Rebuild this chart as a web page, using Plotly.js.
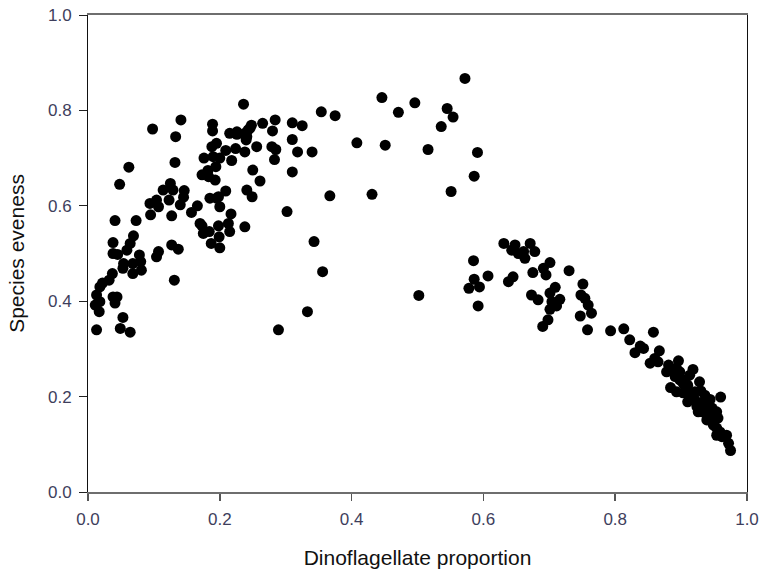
<!DOCTYPE html>
<html>
<head>
<meta charset="utf-8">
<script src="https://cdn.plot.ly/plotly-3.0.1.min.js"></script>
<style>html,body{margin:0;padding:0;background:#fff;}#chart{width:765px;height:579px;}</style>
</head>
<body>
<div id="chart"></div>
<script>
// Dinoflagellate proportion (x) and species eveness (y)
const dinoProportion = [
  0.236,0.098,0.141,0.133,0.132,0.062,0.048,0.189,0.189,0.215,0.226,0.238,0.241,0.248,0.243,0.265,0.284,0.310,0.325,0.280,
  0.310,0.318,0.340,0.279,0.285,0.283,0.256,0.238,0.224,0.209,0.218,0.195,0.188,0.200,0.190,0.176,0.194,0.182,0.173,0.183,
  0.193,0.250,0.261,0.241,0.249,0.209,0.310,0.302,0.238,0.217,0.213,0.215,0.200,0.195,0.185,0.198,0.199,0.200,0.187,0.173,
  0.175,0.184,0.166,0.157,0.146,0.145,0.140,0.125,0.114,0.129,0.123,0.127,0.104,0.094,0.107,0.095,0.073,0.041,0.069,0.064,
  0.059,0.038,0.038,0.045,0.078,0.080,0.081,0.068,0.068,0.054,0.053,0.107,0.104,0.127,0.137,0.037,0.032,0.022,0.018,0.131,
  0.013,0.018,0.011,0.017,0.038,0.041,0.044,0.053,0.013,0.049,0.064,0.289,
  0.446,0.471,0.354,0.375,0.408,0.451,0.367,0.431,0.343,0.356,0.333,0.198,0.226,0.246,0.240,0.170,
  0.572,0.496,0.545,0.554,0.536,0.516,0.591,0.586,0.551,0.502,
  0.631,0.648,0.643,0.653,0.663,0.671,0.678,0.661,0.585,0.586,0.578,0.594,0.607,0.592,0.638,0.645,0.675,0.691,0.701,0.695,
  0.730,0.673,0.683,0.701,0.709,0.716,0.704,0.701,0.711,0.698,0.690,0.751,0.748,0.754,0.759,0.764,0.747,0.758,0.793,0.813,
  0.858,0.822,0.830,0.838,0.843,0.867,0.853,0.860,0.865,0.881,0.883,0.896,0.893,0.898,0.891,0.918,0.884,0.893,0.903,0.908,
  0.898,0.906,0.914,0.921,0.924,0.930,0.934,0.939,0.944,0.926,0.960,0.954,0.956,0.946,0.939,0.949,0.954,0.959,0.954,0.962,
  0.969,0.972,0.975,0.910,0.921,0.936,0.913,0.928,0.941,0.947,0.932,0.910,0.878,0.903
];
const speciesEveness = [
  0.813,0.761,0.780,0.745,0.691,0.681,0.645,0.771,0.757,0.752,0.750,0.752,0.745,0.769,0.759,0.773,0.780,0.774,0.768,0.757,
  0.739,0.713,0.713,0.724,0.718,0.697,0.724,0.713,0.720,0.716,0.695,0.731,0.724,0.700,0.703,0.700,0.682,0.674,0.665,0.661,
  0.654,0.675,0.652,0.633,0.619,0.631,0.671,0.588,0.556,0.583,0.563,0.546,0.598,0.616,0.616,0.558,0.535,0.512,0.521,0.558,
  0.542,0.546,0.600,0.586,0.632,0.618,0.602,0.647,0.633,0.633,0.612,0.579,0.612,0.605,0.598,0.581,0.569,0.569,0.537,0.521,
  0.507,0.523,0.500,0.498,0.497,0.483,0.465,0.458,0.479,0.479,0.469,0.504,0.493,0.518,0.509,0.458,0.444,0.438,0.430,0.444,
  0.413,0.399,0.392,0.378,0.409,0.396,0.409,0.366,0.340,0.343,0.335,0.340,
  0.827,0.796,0.797,0.789,0.732,0.727,0.621,0.624,0.525,0.462,0.378,0.619,0.755,0.763,0.738,0.563,
  0.867,0.816,0.804,0.786,0.766,0.718,0.712,0.662,0.630,0.412,
  0.521,0.518,0.507,0.500,0.490,0.521,0.504,0.504,0.485,0.446,0.427,0.430,0.453,0.390,0.441,0.451,0.460,0.469,0.481,0.455,
  0.464,0.413,0.403,0.417,0.429,0.404,0.399,0.383,0.390,0.361,0.347,0.436,0.413,0.406,0.392,0.375,0.369,0.340,0.338,0.342,
  0.335,0.319,0.292,0.306,0.301,0.296,0.270,0.280,0.273,0.266,0.256,0.275,0.259,0.252,0.242,0.257,0.219,0.210,0.228,0.214,
  0.235,0.235,0.200,0.193,0.179,0.212,0.189,0.172,0.194,0.168,0.199,0.168,0.155,0.158,0.151,0.140,0.134,0.126,0.119,0.116,
  0.119,0.102,0.087,0.224,0.210,0.203,0.245,0.231,0.182,0.176,0.168,0.189,0.252,0.208
];
const xTickValues = [0, 0.2, 0.4, 0.6, 0.8, 1.0];
const xTickLabels = ['0.0', '0.2', '0.4', '0.6', '0.8', '1.0'];
const yTickValues = [0, 0.2, 0.4, 0.6, 0.8, 1.0];
const yTickLabels = ['0.0', '0.2', '0.4', '0.6', '0.8', '1.0'];

const trace = {
  type: 'scatter',
  mode: 'markers',
  x: dinoProportion,
  y: speciesEveness,
  marker: {color: '#000000', size: 11, line: {width: 0}},
  cliponaxis: false,
  hoverinfo: 'x+y'
};

const tickFont = {family: 'Liberation Sans, Arial, sans-serif', size: 17, color: '#3e3e5c'};
const titleFont = {family: 'Liberation Sans, Arial, sans-serif', size: 21, color: '#111111'};

const layout = {
  width: 765,
  height: 579,
  margin: {l: 88, r: 18, t: 15, b: 87},
  paper_bgcolor: '#ffffff',
  plot_bgcolor: '#ffffff',
  showlegend: false,
  xaxis: {
    range: [0, 1],
    tickvals: xTickValues,
    ticktext: xTickLabels,
    ticks: 'outside',
    ticklen: 7,
    tickwidth: 1.5,
    tickcolor: '#555555',
    showline: true,
    linecolor: '#6e6e6e',
    linewidth: 2,
    mirror: true,
    showgrid: false,
    zeroline: false,
    tickfont: tickFont,
    ticklabelstandoff: 4,
    title: {text: 'Dinoflagellate proportion', font: titleFont, standoff: 22},
    automargin: false
  },
  yaxis: {
    range: [0, 1],
    tickvals: yTickValues,
    ticktext: yTickLabels,
    ticks: 'outside',
    ticklen: 8,
    tickwidth: 1,
    tickcolor: '#222222',
    showline: true,
    linecolor: '#111111',
    linewidth: 1,
    mirror: true,
    showgrid: false,
    zeroline: false,
    tickfont: tickFont,
    ticklabelstandoff: 4,
    title: {text: 'Species eveness', font: titleFont, standoff: 17},
    automargin: false
  }
};

Plotly.newPlot('chart', [trace], layout, {displayModeBar: false, staticPlot: true});
</script>
</body>
</html>
